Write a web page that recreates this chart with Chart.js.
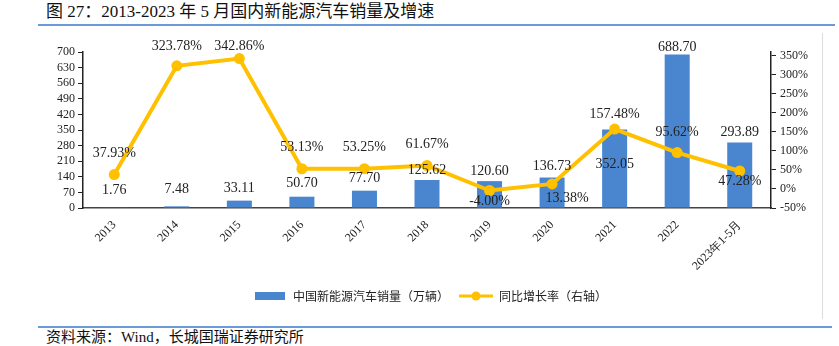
<!DOCTYPE html>
<html>
<head>
<meta charset="utf-8">
<script src="https://cdn.jsdelivr.net/npm/chart.js@4.4.0/dist/chart.umd.min.js"></script>
<style>
  body { margin: 0; width: 839px; height: 346px; background: #fff; overflow: hidden; position: relative;
         font-family: "Liberation Serif", "Noto Sans CJK SC", serif; color: #111; }
  #title { position: absolute; left: 46px; top: 1px; font-size: 17px; line-height: 22px; white-space: nowrap; }
  .rule { position: absolute; left: 38px; height: 2px; background: #6a9bd8; }
  #frame { position: absolute; left: 38px; top: 33px; width: 784px; height: 286px; border-right: 1px solid #dcdcdc; }
  #wrap { position: absolute; left: 38px; top: 30px; width: 784px; height: 290px; }
  #source { position: absolute; left: 46px; top: 328px; font-size: 15px; line-height: 18px; white-space: nowrap; }
</style>
</head>
<body>
<div id="title">图 27：2013-2023 年 5 月国内新能源汽车销量及增速</div>
<div class="rule" style="top:24px;width:797px"></div>
<div id="frame"></div>
<div id="wrap"><canvas id="chart" width="784" height="290"></canvas></div>
<div class="rule" style="top:326px;width:794px"></div>
<div id="source">资料来源：Wind，长城国瑞证券研究所</div>
<script>
// categories and values
const years = ['2013', '2014', '2015', '2016', '2017', '2018', '2019', '2020', '2021', '2022', '2023年1-5月'];
const sales = [1.76, 7.48, 33.11, 50.70, 77.70, 125.62, 120.60, 136.73, 352.05, 688.70, 293.89];
const growth = [37.93, 323.78, 342.86, 53.13, 53.25, 61.67, -4.00, 13.38, 157.48, 95.62, 47.28];

// axis ticks
const salesTicks = [0, 70, 140, 210, 280, 350, 420, 490, 560, 630, 700];
const growthTicks = [-50, 0, 50, 100, 150, 200, 250, 300, 350];

// label nudges (px, relative to bar top / point)
const barLabelDy = [-17, -17, -12, -13, -12, -10, -10, -11, 35, -7, -10];
const growthLabelDx = [0, 0, 0, 0, 0, 0, 0, 15, 0, 0, 0];
const growthLabelDy = [-21, -19, -12, -21, -21, -21, 11, 14, -15, -20, 10];

const barColor = '#4a86d0';
const lineColor = '#ffc000';
const serif = '"Liberation Serif", "Times New Roman", serif';

function swatch(kind) {
  const c = document.createElement('canvas');
  const g = c.getContext('2d');
  if (kind === 'bar') {
    c.width = 30; c.height = 8;
    g.fillStyle = barColor;
    g.fillRect(0, 0, 30, 8);
  } else {
    c.width = 34; c.height = 10;
    g.strokeStyle = lineColor; g.lineWidth = 3;
    g.beginPath(); g.moveTo(0, 5); g.lineTo(34, 5); g.stroke();
    g.fillStyle = lineColor;
    g.beginPath(); g.arc(17, 5, 4.5, 0, Math.PI * 2); g.fill();
  }
  return c;
}

const valueLabels = {
  id: 'valueLabels',
  afterDatasetsDraw(chart) {
    const ctx = chart.ctx;
    ctx.save();
    ctx.font = '14px ' + serif;
    ctx.fillStyle = '#222';
    ctx.textAlign = 'center';
    ctx.textBaseline = 'middle';
    chart.getDatasetMeta(1).data.forEach((bar, i) => {
      ctx.fillText(sales[i].toFixed(2), bar.x, bar.y + barLabelDy[i]);
    });
    chart.getDatasetMeta(0).data.forEach((pt, i) => {
      ctx.fillText(growth[i].toFixed(2) + '%', pt.x + growthLabelDx[i], pt.y + growthLabelDy[i]);
    });
    ctx.restore();
  }
};

new Chart(document.getElementById('chart'), {
  data: {
    labels: years,
    datasets: [
      {
        type: 'line',
        label: '同比增长率（右轴）',
        data: growth,
        yAxisID: 'y1',
        borderColor: lineColor,
        backgroundColor: lineColor,
        borderWidth: 4,
        pointRadius: 5.5,
        pointBackgroundColor: lineColor,
        pointBorderWidth: 0,
        tension: 0
      },
      {
        type: 'bar',
        label: '中国新能源汽车销量（万辆）',
        data: sales,
        yAxisID: 'y',
        backgroundColor: barColor,
        borderWidth: 0,
        barPercentage: 0.8,
        categoryPercentage: 0.5
      }
    ]
  },
  options: {
    responsive: false,
    animation: false,
    layout: { padding: { top: 22, bottom: 8, left: 0, right: 0 } },
    plugins: {
      tooltip: { enabled: false },
      legend: {
        position: 'bottom',
        labels: {
          usePointStyle: true,
          pointStyleWidth: 34,
          padding: 10,
          color: '#222',
          font: { family: '"Noto Sans CJK SC", sans-serif', size: 12 },
          generateLabels: (chart) => [
            { text: '中国新能源汽车销量（万辆）', pointStyle: swatch('bar'), datasetIndex: 1, fontColor: '#222', lineWidth: 0 },
            { text: '同比增长率（右轴）', pointStyle: swatch('line'), datasetIndex: 0, fontColor: '#222', lineWidth: 0 }
          ]
        }
      }
    },
    scales: {
      x: {
        grid: { display: false },
        border: { color: '#444', width: 1.5 },
        ticks: { color: '#222', font: { family: serif, size: 12 }, maxRotation: 45, minRotation: 45, padding: 2, autoSkip: false },
        afterFit: (s) => { s.height = 72; }
      },
      y: {
        position: 'left',
        min: 0, max: 700,
        grid: { drawOnChartArea: false, drawTicks: true, tickLength: 5, color: '#222' },
        border: { color: '#222', width: 1.5 },
        ticks: { autoSkip: false, color: '#222', font: { family: serif, size: 12 }, padding: 3 },
        afterBuildTicks: (s) => { s.ticks = salesTicks.map(v => ({ value: v })); },
        afterFit: (s) => { s.width = 45; }
      },
      y1: {
        position: 'right',
        min: -50, max: 360,
        grid: { drawOnChartArea: false, drawTicks: true, tickLength: 5, color: '#222' },
        border: { color: '#222', width: 1.5 },
        ticks: { autoSkip: false, color: '#222', font: { family: serif, size: 12 }, padding: 4,
                 callback: (v) => v + '%' },
        afterBuildTicks: (s) => { s.ticks = growthTicks.map(v => ({ value: v })); },
        afterFit: (s) => { s.width = 51; }
      }
    }
  },
  plugins: [valueLabels]
});
</script>
</body>
</html>
